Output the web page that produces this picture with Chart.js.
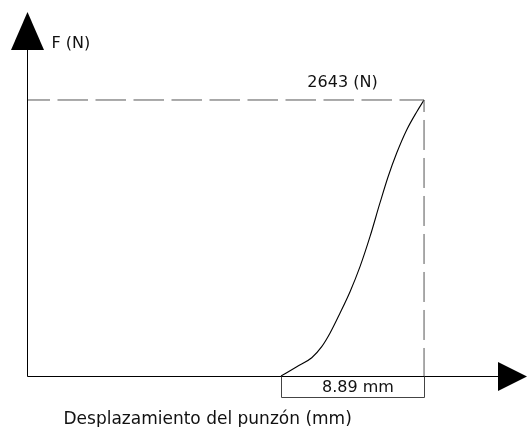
<!DOCTYPE html>
<html>
<head>
<meta charset="utf-8">
<script src="https://cdn.jsdelivr.net/npm/chart.js@4/dist/chart.umd.min.js"></script>
<style>
  html, body { margin: 0; padding: 0; background: #fff; }
  #wrap { width: 527px; height: 427px; }
</style>
</head>
<body>
<div id="wrap"><canvas id="forceChart" width="527" height="427"></canvas></div>
<script>
// punch displacement (mm) vs force (N)
const displacement = [0, 0.98, 1.91, 2.53, 3.05, 3.67, 4.29, 4.91, 5.53, 6.15, 6.65, 7.19, 7.81, 8.44, 8.89];
const force = [0, 89, 175, 281, 412, 603, 807, 1047, 1334, 1657, 1906, 2135, 2356, 2531, 2643];

const peakForce = 2643;
const stroke = 8.89;

const yAxisLabel = "F (N)";
const xAxisLabel = "Desplazamiento del punzón (mm)";
const peakLabel = "2643 (N)";
const strokeLabel = "8.89 mm";

// axis extents (axis origin at the left, arrow tips at the ends)
const X_MIN = -15.79;
const X_MAX = 15.29;
const Y_MAX = 3485.6;

const FONT = "16px 'DejaVu Sans', sans-serif";
const FONT_XLABEL = "17px 'DejaVu Sans', sans-serif";

const curve = displacement.map((x, i) => ({ x, y: force[i] }));

const sketchAxes = {
    id: "sketchAxes",
    afterDatasetsDraw(chart) {
        const ctx = chart.ctx;
        const xs = chart.scales.x;
        const ys = chart.scales.y;

        const x0 = Math.round(xs.getPixelForValue(X_MIN)) + 0.5;
        const y0 = Math.round(ys.getPixelForValue(0)) + 0.5;
        const yTop = ys.getPixelForValue(Y_MAX);
        const xEnd = xs.getPixelForValue(X_MAX);

        ctx.save();
        ctx.strokeStyle = "#000";
        ctx.fillStyle = "#000";
        ctx.lineWidth = 1;

        // vertical axis + arrow
        ctx.beginPath();
        ctx.moveTo(x0, y0);
        ctx.lineTo(x0, yTop + 36);
        ctx.stroke();
        ctx.beginPath();
        ctx.moveTo(x0, yTop);
        ctx.lineTo(x0 - 16.5, yTop + 38);
        ctx.lineTo(x0 + 16.5, yTop + 38);
        ctx.closePath();
        ctx.fill();

        // horizontal axis + arrow
        ctx.beginPath();
        ctx.moveTo(x0, y0);
        ctx.lineTo(xEnd - 27, y0);
        ctx.stroke();
        ctx.beginPath();
        ctx.moveTo(xEnd, y0);
        ctx.lineTo(xEnd - 29, y0 - 14.5);
        ctx.lineTo(xEnd - 29, y0 + 14.5);
        ctx.closePath();
        ctx.fill();

        // dimension box under the stroke
        const xa = Math.round(xs.getPixelForValue(0)) + 0.5;
        const xb = Math.round(xs.getPixelForValue(stroke)) + 0.5;
        const yb = y0 + 21;
        ctx.strokeStyle = "#444";
        ctx.beginPath();
        ctx.moveTo(xa, y0);
        ctx.lineTo(xa, yb);
        ctx.lineTo(xb, yb);
        ctx.lineTo(xb, y0);
        ctx.stroke();

        // texts
        ctx.fillStyle = "#111";
        ctx.textBaseline = "alphabetic";
        ctx.textAlign = "left";
        ctx.font = FONT;
        ctx.fillText(yAxisLabel, x0 + 24, yTop + 36);
        ctx.font = FONT_XLABEL;
        ctx.fillText(xAxisLabel, x0 + 36, y0 + 47);

        ctx.font = FONT;
        ctx.textAlign = "center";
        const yPeak = ys.getPixelForValue(peakForce);
        ctx.fillText(peakLabel, xb - 82, yPeak - 13);
        ctx.fillText(strokeLabel, (xa + xb) / 2 + 5, y0 + 15);
        ctx.restore();
    }
};

new Chart(document.getElementById("forceChart").getContext("2d"), {
    type: "line",
    data: {
        datasets: [
            {
                data: [{ x: X_MIN, y: peakForce }, { x: stroke, y: peakForce }],
                borderColor: "#555",
                borderWidth: 1,
                borderDash: [30.5, 7.5],
                borderDashOffset: 7.5,
                pointRadius: 0,
                tension: 0,
            },
            {
                data: [{ x: stroke, y: peakForce }, { x: stroke, y: 0 }],
                borderColor: "#555",
                borderWidth: 1,
                borderDash: [30, 8],
                borderDashOffset: 18,
                pointRadius: 0,
                tension: 0,
            },
            {
                data: curve,
                borderColor: "#000",
                borderWidth: 1.1,
                pointRadius: 0,
                cubicInterpolationMode: "monotone",
            },
        ],
    },
    options: {
        responsive: false,
        animation: false,
        events: [],
        layout: { padding: { left: 27, right: 0, top: 12, bottom: 51 } },
        scales: {
            x: { type: "linear", min: X_MIN, max: X_MAX, display: false },
            y: { type: "linear", min: 0, max: Y_MAX, display: false },
        },
        plugins: {
            legend: { display: false },
            tooltip: { enabled: false },
        },
    },
    plugins: [sketchAxes],
});
</script>
</body>
</html>
